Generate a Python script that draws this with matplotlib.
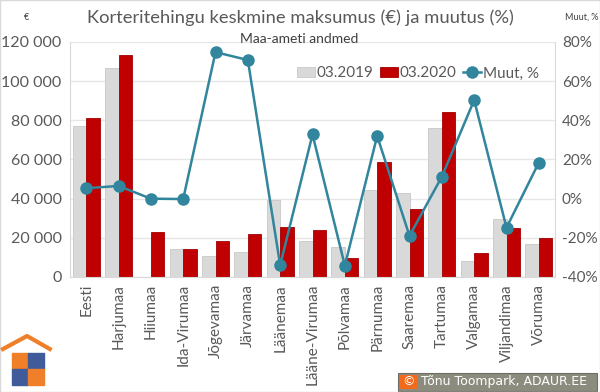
import matplotlib
matplotlib.use('Agg')
import matplotlib.pyplot as plt
import matplotlib.patches as mpatches
from matplotlib.ticker import FuncFormatter
import numpy as np

# Data
maakonnad = ['Eesti', 'Harjumaa', 'Hiiumaa', 'Ida-Virumaa', 'Jõgevamaa', 'Järvamaa',
             'Läänemaa', 'Lääne-Virumaa', 'Põlvamaa', 'Pärnumaa', 'Saaremaa',
             'Tartumaa', 'Valgamaa', 'Viljandimaa', 'Võrumaa']
hind_2019 = [77300, 106600, 0, 14300, 10700, 12800, 39100, 18400, 15200, 44600,
             43000, 76100, 8200, 29400, 16900]
hind_2020 = [81200, 113200, 23100, 14300, 18400, 21800, 25500, 24000, 9900, 58800,
             34600, 84200, 12400, 24900, 19900]
muutus = [5.3, 6.5, 0.0, -0.2, 74.8, 70.8, -34.0, 32.8, -34.2, 32.0, -19.0,
          11.2, 50.3, -14.8, 18.4]
left_ticks = [0, 20000, 40000, 60000, 80000, 100000, 120000]
right_ticks = [-40, -20, 0, 20, 40, 60, 80]

plt.rcParams['font.family'] = ['Lato', 'DejaVu Sans']
txt_color = '#595959'
gray = '#D9D9D9'
red = '#C00000'
teal = '#31859C'

fig = plt.figure(figsize=(6, 3.92), dpi=100)
ax = fig.add_axes([0.1167, 0.2934, 0.8083, 0.5995])

x = np.arange(len(maakonnad))
w = 0.42
ax.bar(x - w / 2, hind_2019, w, color=gray, edgecolor='#C8C8C8', linewidth=0.6,
       label='03.2019', zorder=2)
ax.bar(x + w / 2, hind_2020, w, color=red, edgecolor='#A00000', linewidth=0.6,
       label='03.2020', zorder=2)
ax.set_xlim(-0.5, len(maakonnad) - 0.5)
ax.set_ylim(0, 120000)
ax.set_yticks(left_ticks)
ax.yaxis.set_major_formatter(FuncFormatter(lambda v, p: f'{int(v):,}'.replace(',', ' ')))
ax.grid(axis='y', color='#E6E6E6', linewidth=1, zorder=0)
ax.set_axisbelow(True)
ax.set_xticks(x)
ax.set_xticklabels(maakonnad, rotation=90, fontsize=11, color=txt_color)
ax.tick_params(axis='y', labelsize=11.5, colors=txt_color, length=0, pad=6)
ax.tick_params(axis='x', length=0, pad=5)
for s in ['top', 'right']:
    ax.spines[s].set_visible(False)
ax.spines['left'].set_color('#D9D9D9')
ax.spines['bottom'].set_color('#D9D9D9')

ax2 = ax.twinx()
ax2.plot(x, muutus, color=teal, linewidth=1.8, marker='o', markersize=8,
         label='Muut, %', zorder=3)
ax2.set_ylim(-40, 80)
ax2.set_yticks(right_ticks)
ax2.yaxis.set_major_formatter(FuncFormatter(lambda v, p: f'{int(v)}%'))
ax2.tick_params(axis='y', labelsize=11, colors=txt_color, length=0, pad=5)
for s in ['top', 'left', 'bottom']:
    ax2.spines[s].set_visible(False)
ax2.spines['right'].set_color('#D9D9D9')

h1, l1 = ax.get_legend_handles_labels()
h2, l2 = ax2.get_legend_handles_labels()
leg = ax2.legend(h1 + h2, l1 + l2, loc='upper right', bbox_to_anchor=(0.985, 0.935),
                 ncol=3, frameon=False, fontsize=11, handlelength=1.2,
                 handletextpad=0.1, columnspacing=0.4, borderaxespad=0.2)
for t in leg.get_texts():
    t.set_color(txt_color)

fig.text(0.5, 0.955, 'Korteritehingu keskmine maksumus (€) ja muutus (%)',
         ha='center', va='center', fontsize=13.2, color=txt_color)
fig.text(0.4, 0.9, 'Maa-ameti andmed', ha='left', va='center', fontsize=10,
         color='#404040')
fig.text(0.04, 0.955, '€', ha='left', va='center', fontsize=6.5, color='#404040')
fig.text(0.942, 0.955, 'Muut, %', ha='left', va='center', fontsize=6.5, color='#404040')

# logo: roof and puzzle pieces
orange = '#F07F2A'
blue = '#3F5B9A'
fig.add_artist(plt.Line2D([0.005, 0.045, 0.083], [1 - 349 / 392, 1 - 336 / 392, 1 - 349 / 392],
                          color=orange, linewidth=3, transform=fig.transFigure))
sq = 16
for i, (cx, cy) in enumerate([(12, 353), (28, 353), (12, 369), (28, 369)]):
    col = orange if i in (0, 3) else blue
    fig.add_artist(mpatches.Rectangle((cx / 600, 1 - (cy + sq) / 392), sq / 600, sq / 392,
                                      color=col, transform=fig.transFigure))

# copyright box
fig.add_artist(mpatches.Rectangle((398 / 600, 1 - 391 / 392), 199 / 600, 18 / 392,
                                  facecolor='#8C8C7E', edgecolor='#6E6E66', linewidth=0.8,
                                  transform=fig.transFigure))
fig.add_artist(mpatches.Rectangle((400 / 600, 1 - 389 / 392), 18 / 600, 14 / 392,
                                  facecolor='#F26B1D', transform=fig.transFigure))
fig.text(409 / 600, 1 - 382 / 392, '©', ha='center', va='center', fontsize=9,
         color='white', family='DejaVu Sans')
fig.text(421 / 600, 1 - 382 / 392, 'Tõnu Toompark, ADAUR.EE', ha='left', va='center',
         fontsize=9, color='white', family='DejaVu Sans')

# thin figure border
fig.add_artist(mpatches.Rectangle((0, 0), 1, 1, fill=False, edgecolor='#D9D9D9',
                                  linewidth=1, transform=fig.transFigure))

fig.savefig('out.png', dpi=100)
